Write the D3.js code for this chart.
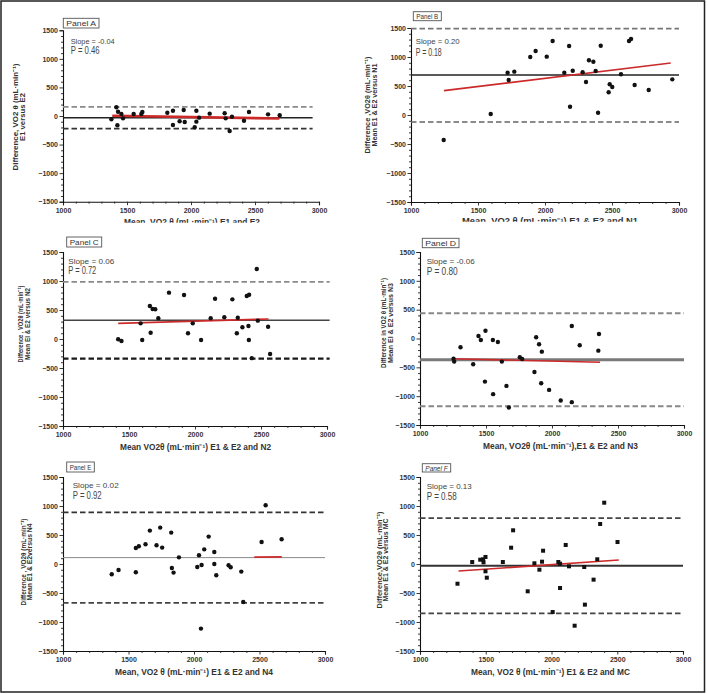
<!DOCTYPE html>
<html><head><meta charset="utf-8">
<script src="https://cdn.jsdelivr.net/npm/d3@7"></script>
<style>
body{margin:0;background:#fff}
svg{display:block}
text{font-family:"Liberation Sans",Arial,Helvetica,sans-serif}
</style>
</head><body>
<svg id="chart" width="708" height="694"></svg>
<script>
// ---------------- DATA ----------------
const panelNames = ["Panel A","Panel B","Panel C","Panel D","Panel E","Panel F"];
const slopeLabels = ["Slope = -0.04","Slope = 0.20","Slope = 0.06","Slope = -0.06","Slope = 0.02","Slope = 0.13"];
const pLabels = ["P = 0.46","P = 0.18","P = 0.72","P = 0.80","P = 0.92","P = 0.58"];
const xTicks = [1000,1500,2000,2500,3000];
const yTicks = [-1500,-1000,-500,0,500,1000,1500];
const yTitle1 = ["Difference, VO2 \u03b8 (mL\u00b7min\u207b\u00b9)","Difference ,VO2\u03b8 (mL\u00b7min\u207b\u00b9)","Difference , VO2\u03b8 (mL\u00b7min\u207b\u00b9)","Difference in VO2 \u03b8 (mL\u00b7min\u207b\u00b9)","Difference , VO2\u03b8 (mL\u00b7min\u207b\u00b9)","Difference,VO2\u03b8 (mL\u00b7min\u207b\u00b9)"];
const yTitle2 = ["E1 versus E2","Mean E1 & E2 versus N1","Mean El & E2 versus N2","Mean El & E2 versus N3","Mean E1 & E2versus N4","Mean E1 & E2 versus MC"];
const xTitles = ["Mean, VO2 \u03b8 (mL\u00b7min\u207b\u00b9) E1 and E2","Mean, VO2 \u03b8  (mL\u00b7min\u207b\u00b9) E1 & E2 and N1","Mean VO2\u03b8  (mL\u00b7min\u207b\u00b9) E1 & E2 and N2","Mean, VO2\u03b8  (mL\u00b7min\u207b\u00b9),E1 & E2 and N3","Mean, VO2 \u03b8  (mL\u00b7min\u207b\u00b9) E1 & E2 and N4","Mean, VO2 \u03b8  (mL\u00b7min\u207b\u00b9) E1 & E2 and MC"];

const meanDiff = [-30, 690, 322, -368, 110, -32];
const upperLoA = [160, 1490, 985, 438, 890, 790];
const lowerLoA = [-220, -120, -340, -1175, -670, -850];
const regStart = [[1385,5],[1246,420],[1418,270],[1242,-350],[2460,118],[1293,-121]];
const regEnd   = [[2690,-45],[2938,897],[2557,345],[2364,-412],[2670,122],[2512,69]];

const pointsA = [[1378,-58],[1417,152],[1430,75],[1425,-163],[1456,35],[1469,-41],[1552,35],[1612,35],[1620,70],[1815,58],[1859,93],[1859,-158],[1911,-93],[1943,105],[1951,-105],[2029,-198],[2042,-99],[2042,93],[2063,-29],[2146,41],[2263,47],[2271,-41],[2302,-263],[2320,-12],[2414,-82],[2453,70],[2602,29],[2693,12]];
const pointsB = [[1244,-431],[1595,17],[1721,729],[1729,603],[1771,747],[1890,1000],[1930,1103],[2013,1006],[2057,1276],[2144,729],[2180,1190],[2187,143],[2207,764],[2281,736],[2306,569],[2328,943],[2361,919],[2378,759],[2396,40],[2416,1195],[2475,391],[2483,529],[2502,483],[2567,702],[2627,1276],[2642,1310],[2669,517],[2774,431],[2950,615]];
const pointsC = [[1418,-5],[1443,-34],[1588,270],[1600,-17],[1658,569],[1664,109],[1679,517],[1699,512],[1722,357],[1803,799],[1917,759],[1947,98],[1983,270],[2046,-17],[2119,357],[2152,695],[2222,374],[2283,684],[2317,98],[2324,367],[2359,202],[2392,741],[2405,224],[2408,-17],[2410,764],[2430,-330],[2468,1207],[2476,316],[2554,212],[2569,-259]];
const pointsD = [[1254,-349],[1259,-401],[1307,-152],[1403,-446],[1443,43],[1461,-26],[1492,-747],[1496,135],[1552,-26],[1554,-965],[1590,-61],[1620,-401],[1655,-822],[1673,-1197],[1756,-325],[1774,-355],[1867,-580],[1880,21],[1902,-100],[1918,-775],[1923,-228],[1978,-891],[2066,-1076],[2150,216],[2150,-1104],[2210,-118],[2351,-211],[2356,78]];
const pointsE = [[1372,-178],[1424,-103],[1556,-143],[1556,276],[1579,305],[1630,340],[1663,576],[1714,322],[1742,628],[1757,283],[1826,541],[1831,-69],[1844,-148],[1885,115],[2025,-52],[2038,150],[2053,-1114],[2058,-17],[2078,253],[2112,472],[2155,207],[2155,0],[2170,-195],[2264,-22],[2280,-57],[2361,-131],[2376,-655],[2516,379],[2547,1012],[2669,426]];
const pointsF = [[1285,-340],[1397,34],[1458,74],[1480,81],[1483,29],[1498,121],[1498,-126],[1508,-236],[1630,34],[1693,281],[1708,581],[1819,-471],[1870,12],[1908,-98],[1928,40],[1936,229],[2009,-828],[2052,34],[2065,5],[2065,-414],[2108,328],[2133,-40],[2176,-1064],[2249,-52],[2254,-701],[2320,-270],[2348,81],[2370,690],[2401,1057],[2502,379]];
const allPoints = [pointsA,pointsB,pointsC,pointsD,pointsE,pointsF];

// ---------------- LAYOUT ----------------
const layout = [
 {x0:63,x1:319,yT:30.3,yB:201.7,lineEnd:2950, box:[63.3,18.3,35.7,9.7], st:[70.7,41.7,44,50.7,29],
  yt:[15,22,117,107,48], xt:[192,221.5,136], clip:222.7, up:"#8a8a8a",lo:"#333",mc:"#222",mw:1.4,upw:1.8,low:1.8,rw:2.6, sq:false},
 {x0:411,x1:679,yT:28,yB:202,lineEnd:3000, box:[413.3,11.7,28,9], st:[415.7,41.7,44,52.3,26],
  yt:[367.5,374,105,97,83], xt:[550,220.7,176], clip:221.7, up:"#777",lo:"#666",mc:"#222",mw:1.4,upw:1.6,low:1.6,rw:1.6, sq:false},
 {x0:63,x1:327,yT:252,yB:426,lineEnd:3020, box:[66.7,237,35,10], st:[68.3,261,46,270.3,28],
  yt:[20.7,27.3,324,77,72], xt:[195.5,447,151], clip:null, up:"#8a8a8a",lo:"#1a1a1a",mc:"#444",mw:1.4,upw:1.8,low:2.2,rw:1.6, sq:false},
 {x0:420,x1:684,yT:252,yB:425,lineEnd:3000, box:[422.3,238.3,36.7,9.4], st:[426.7,261.7,48,271,31],
  yt:[383.3,390,323,90,80], xt:[560.5,446,155], clip:null, up:"#888",lo:"#888",mc:"#7a7a7a",mw:3,upw:1.8,low:1.8,rw:1.6, sq:false},
 {x0:63,x1:325,yT:477,yB:651,lineEnd:3000, box:[66.7,462,27.6,10], st:[72.7,485.3,46,495.3,29],
  yt:[23.3,29.7,562,87,77], xt:[194,672,158], clip:null, up:"#333",lo:"#444",mc:"#8a8a8a",mw:1,upw:1.8,low:1.6,rw:1.6, sq:false},
 {x0:420,x1:683,yT:477,yB:651,lineEnd:3000, box:[422.3,463.7,28.4,8.3], st:[426.7,486,45,496.3,30],
  yt:[379,385,560,97,83], xt:[550.5,672,159], clip:null, up:"#444",lo:"#444",mc:"#333",mw:2,upw:1.8,low:1.8,rw:1.6, sq:true, italic:true}
];

const svg = d3.select("#chart");
const defs = svg.append("defs");

// outer frame
svg.append("rect").attr("x",1).attr("y",1).attr("width",703.5).attr("height",691)
  .attr("fill","none").attr("stroke","#222").attr("stroke-width",1.5);

layout.forEach((L,i)=>{
  const g = svg.append("g");
  const x = d3.scaleLinear().domain([1000,3000]).range([L.x0,L.x1]);
  const y = d3.scaleLinear().domain([-1500,1500]).range([L.yB,L.yT]);

  // axes
  const xMinor = d3.range(1000,3001,100);
  const yMinor = d3.range(-1500,1501,100);
  const xAx = d3.axisBottom(x).tickValues(xTicks).tickSize(3.5).tickPadding(2.5).tickFormat(d3.format("d"));
  const yAx = d3.axisLeft(y).tickValues(yTicks).tickSize(3.5).tickPadding(1.5).tickFormat(d3.format("d"));
  const gx = g.append("g").attr("transform",`translate(0,${L.yB})`).call(xAx);
  const gy = g.append("g").attr("transform",`translate(${L.x0},0)`).call(yAx);
  g.append("g").attr("transform",`translate(0,${L.yB})`)
    .call(d3.axisBottom(x).tickValues(xMinor.filter(v=>v%500)).tickSize(2).tickFormat(""))
    .call(s=>s.select(".domain").remove());
  g.append("g").attr("transform",`translate(${L.x0},0)`)
    .call(d3.axisLeft(y).tickValues(yMinor.filter(v=>v%500)).tickSize(2).tickFormat(""))
    .call(s=>s.select(".domain").remove());
  g.selectAll(".domain").attr("stroke","#111").attr("stroke-width",1.1);
  g.selectAll(".tick line").attr("stroke","#222").attr("stroke-width",0.9);
  [gx,gy].forEach(a=>a.selectAll("text").attr("font-size",7).attr("font-weight","bold").attr("fill","#333").attr("font-family",'"Liberation Sans",Arial,sans-serif'));

  // limit & mean lines
  const hline = (v,col,w,dash)=>g.append("line")
     .attr("x1",x(1000)).attr("x2",x(L.lineEnd)).attr("y1",y(v)).attr("y2",y(v))
     .attr("stroke",col).attr("stroke-width",w).attr("stroke-dasharray",dash||null);
  hline(upperLoA[i],L.up,L.upw,"5.5,3");
  hline(lowerLoA[i],L.lo,L.low,"5.5,3");

  const red = ()=>g.append("line")
     .attr("x1",x(regStart[i][0])).attr("y1",y(regStart[i][1]))
     .attr("x2",x(regEnd[i][0])).attr("y2",y(regEnd[i][1]))
     .attr("stroke","#cc2a2a").attr("stroke-width",L.rw);
  hline(meanDiff[i],L.mc,L.mw);
  red();

  // points
  if(L.sq){
    g.append("g").selectAll("rect").data(allPoints[i]).join("rect")
      .attr("x",d=>x(d[0])-2).attr("y",d=>y(d[1])-2).attr("width",4).attr("height",4).attr("fill","#111");
  } else {
    g.append("g").selectAll("circle").data(allPoints[i]).join("circle")
      .attr("cx",d=>x(d[0])).attr("cy",d=>y(d[1])).attr("r",2.2).attr("fill","#111");
  }

  // panel label box
  const b = L.box;
  g.append("rect").attr("x",b[0]).attr("y",b[1]).attr("width",b[2]).attr("height",b[3])
    .attr("fill","#fff").attr("stroke","#555").attr("stroke-width",0.9);
  g.append("text").attr("x",b[0]+b[2]/2).attr("y",b[1]+b[3]/2+0.3).attr("text-anchor","middle")
    .attr("dominant-baseline","central").attr("font-size",8).attr("fill","#333")
    .attr("font-style",L.italic?"italic":null)
    .attr("textLength",b[2]-6).attr("lengthAdjust","spacingAndGlyphs").text(panelNames[i]);

  // stats text
  const s = L.st;
  g.append("text").attr("x",s[0]).attr("y",s[1]).attr("dominant-baseline","central")
    .attr("font-size",8).attr("fill","#444").attr("textLength",s[2]).attr("lengthAdjust","spacingAndGlyphs")
    .text(slopeLabels[i]);
  g.append("text").attr("x",s[0]).attr("y",s[3]).attr("dominant-baseline","central")
    .attr("font-size",10).attr("fill","#444").attr("textLength",s[4]).attr("lengthAdjust","spacingAndGlyphs")
    .text(pLabels[i]);

  // y titles
  const t = L.yt;
  [[t[0],yTitle1[i],t[3],"normal"],[t[1],yTitle2[i],t[4],"bold"]].forEach(([cx,txt,len,fw])=>{
    g.append("text").attr("transform",`translate(${cx},${t[2]}) rotate(-90)`)
      .attr("text-anchor","middle").attr("dominant-baseline","central")
      .attr("font-size",7.5).attr("font-weight",fw==="bold"?"bold":"bold").attr("fill","#333")
      .attr("textLength",len).attr("lengthAdjust","spacingAndGlyphs").text(txt);
  });

  // x title
  const xt = L.xt;
  let xg = g;
  if(L.clip){
    const id = "clip"+i;
    defs.append("clipPath").attr("id",id).append("rect")
      .attr("x",0).attr("y",0).attr("width",708).attr("height",L.clip);
    xg = g.append("g").attr("clip-path",`url(#${id})`);
  }
  xg.append("text").attr("x",xt[0]).attr("y",xt[1]).attr("text-anchor","middle")
    .attr("dominant-baseline","central").attr("font-size",8.5).attr("font-weight","bold").attr("fill","#333")
    .attr("textLength",xt[2]).attr("lengthAdjust","spacingAndGlyphs").text(xTitles[i]);
});
</script>
</body></html>
